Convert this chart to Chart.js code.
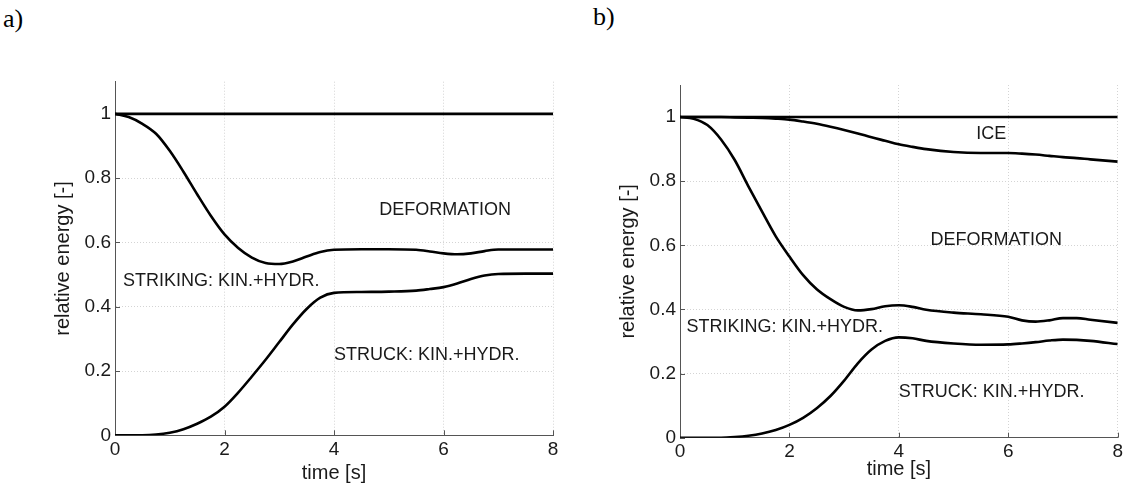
<!DOCTYPE html>
<html><head><meta charset="utf-8">
<script src="https://cdn.jsdelivr.net/npm/chart.js@4/dist/chart.umd.min.js"></script>
<style>
body{margin:0;background:#fff;width:1126px;height:485px;overflow:hidden;position:relative;font-family:"Liberation Sans",Arial,sans-serif}
.wrap{position:absolute;top:0;height:485px}
#wa{left:0;width:563px}
#wb{left:565px;width:561px}
.panel{position:absolute;font-family:"Liberation Serif","Times New Roman",serif;font-size:26px;color:#000;line-height:30px}
</style></head><body>
<div class="panel" style="left:3px;top:4px">a)</div>
<div class="panel" style="left:593px;top:2px">b)</div>
<div class="wrap" id="wa"><canvas id="ca" width="563" height="485"></canvas></div>
<div class="wrap" id="wb"><canvas id="cb" width="561" height="485"></canvas></div>
<script>
// ---- data: panel a ----
const timeA     = [0,0.25,0.5,0.75,1.0,1.25,1.5,1.75,2.0,2.25,2.5,2.75,3.0,3.25,3.5,3.75,4.0,4.5,5.0,5.5,5.75,6.0,6.25,6.5,6.75,7.0,7.5,8.0];
const totalA    = timeA.map(()=>1.0);
const strikingA = [1.0,0.99,0.969,0.938,0.885,0.82,0.75,0.683,0.625,0.583,0.553,0.536,0.533,0.541,0.556,0.57,0.577,0.579,0.579,0.577,0.572,0.566,0.563,0.566,0.573,0.578,0.578,0.578];
const struckA   = [0,0,0,0.002,0.008,0.019,0.036,0.058,0.089,0.133,0.183,0.235,0.29,0.345,0.393,0.428,0.443,0.446,0.447,0.45,0.455,0.461,0.472,0.486,0.497,0.502,0.503,0.503];
// ---- data: panel b ----
const timeB     = [0,0.25,0.5,0.75,1.0,1.25,1.5,1.75,2.0,2.25,2.5,2.75,3.0,3.25,3.5,3.75,4.0,4.25,4.5,5.0,5.5,6.0,6.25,6.5,6.75,7.0,7.25,7.5,8.0];
const totalB    = timeB.map(()=>1.0);
const iceB      = [1.0,1.0,1.0,1.0,0.999,0.998,0.997,0.995,0.992,0.986,0.979,0.970,0.960,0.949,0.937,0.926,0.915,0.907,0.900,0.891,0.888,0.888,0.886,0.883,0.879,0.875,0.872,0.868,0.861];
const strikingB = [1.0,0.995,0.975,0.93,0.866,0.784,0.705,0.628,0.565,0.507,0.463,0.432,0.408,0.397,0.401,0.41,0.413,0.408,0.399,0.39,0.385,0.377,0.366,0.362,0.366,0.373,0.373,0.368,0.358];
const struckB   = [0,0,0,0,0.002,0.006,0.013,0.024,0.04,0.062,0.092,0.13,0.178,0.232,0.275,0.302,0.313,0.31,0.302,0.294,0.29,0.291,0.294,0.298,0.303,0.306,0.305,0.302,0.292];
// ---- ticks / labels ----
const xTickLabels = ['0','2','4','6','8'];
const yTickLabels = ['0','0.2','0.4','0.6','0.8','1'];
const xTitle = 'time [s]';
const yTitle = 'relative energy [-]';
const annotA = [
  {text:'DEFORMATION', x:6.03, y:0.70, align:'center'},
  {text:'STRIKING: KIN.+HYDR.', x:0.146, y:0.48, align:'left'},
  {text:'STRUCK: KIN.+HYDR.', x:4.0, y:0.249, align:'left'}
];
const annotB = [
  {text:'ICE', x:5.69, y:0.948, align:'center'},
  {text:'DEFORMATION', x:5.78, y:0.618, align:'center'},
  {text:'STRIKING: KIN.+HYDR.', x:0.12, y:0.346, align:'left'},
  {text:'STRUCK: KIN.+HYDR.', x:4.0, y:0.143, align:'left'}
];

const FONT = '"Liberation Sans", Arial, sans-serif';
const TXT = '#1a1a1a';

const inwardTicks = {
  id:'inwardTicks',
  beforeDatasetsDraw(chart){
    const {ctx, chartArea:a, scales:{x,y}} = chart;
    ctx.save(); ctx.strokeStyle='#555'; ctx.lineWidth=1;
    x.ticks.forEach(t=>{const p=Math.round(x.getPixelForValue(t.value))+0.5;ctx.beginPath();ctx.moveTo(p,a.bottom);ctx.lineTo(p,a.bottom-5);ctx.stroke();});
    y.ticks.forEach(t=>{const p=Math.round(y.getPixelForValue(t.value))+0.5;ctx.beginPath();ctx.moveTo(a.left,p);ctx.lineTo(a.left+5,p);ctx.stroke();});
    ctx.restore();
  }
};
const annotPlugin = {
  id:'annot',
  afterDatasetsDraw(chart, args, opts){
    const {ctx, scales:{x,y}} = chart;
    ctx.save(); ctx.fillStyle=TXT; ctx.font='18px '+FONT; ctx.textBaseline='middle';
    (opts.items||[]).forEach(it=>{ctx.textAlign=it.align;ctx.fillText(it.text,x.getPixelForValue(it.x),y.getPixelForValue(it.y));});
    ctx.restore();
  }
};

function ds(times, vals){
  return {data: times.map((t,i)=>({x:t,y:vals[i]})), borderColor:'#000', borderWidth:2.6,
          pointRadius:0, cubicInterpolationMode:'monotone', fill:false};
}

function make(id, times, series, annots, g){
  new Chart(document.getElementById(id), {
    type:'line',
    data:{datasets: series.map(s=>ds(times,s))},
    plugins:[inwardTicks, annotPlugin],
    options:{
      responsive:false, animation:false, events:[],
      layout:{padding:{top:g.top,left:0,right:g.right,bottom:0}},
      plugins:{legend:{display:false}, tooltip:{enabled:false}, annot:{items:annots}},
      scales:{
        x:{type:'linear', min:0, max:8,
           afterBuildTicks:s=>{s.ticks=[0,2,4,6,8].map(v=>({value:v}));},
           afterFit:s=>{s.height=g.axisH;},
           ticks:{stepSize:2, color:TXT, font:{family:FONT,size:19}, padding:3, maxRotation:0,
                  callback:(v)=>xTickLabels[Math.round(v/2)]},
           grid:{color:'#d4d4d4', drawTicks:false},
           border:{color:'#555', width:1, dash:[1,2]},
           title:{display:true, text:xTitle, color:TXT, font:{family:FONT,size:20,lineHeight:1}, padding:{top:0,bottom:g.titleB}}},
        y:{type:'linear', min:0, max:1.1,
           afterBuildTicks:s=>{s.ticks=[0,0.2,0.4,0.6,0.8,1.0].map(v=>({value:v}));},
           afterFit:s=>{s.width=115;},
           ticks:{color:TXT, font:{family:FONT,size:19}, padding:4,
                  callback:(v)=>yTickLabels[Math.round(v/0.2)]},
           grid:{color:'#d4d4d4', drawTicks:false},
           border:{color:'#555', width:1, dash:[1,2]},
           title:{display:true, text:yTitle, color:TXT, font:{family:FONT,size:20,lineHeight:1.2}, padding:{top:51,bottom:0}}}
      }
    }
  });
}

make('ca', timeA, [totalA, strikingA, struckA], annotA, {top:81.7, right:10, axisH:49.7, titleB:2});
make('cb', timeB, [totalB, iceB, strikingB, struckB], annotB, {top:85, right:6, axisH:47.3, titleB:6});
</script>
</body></html>
